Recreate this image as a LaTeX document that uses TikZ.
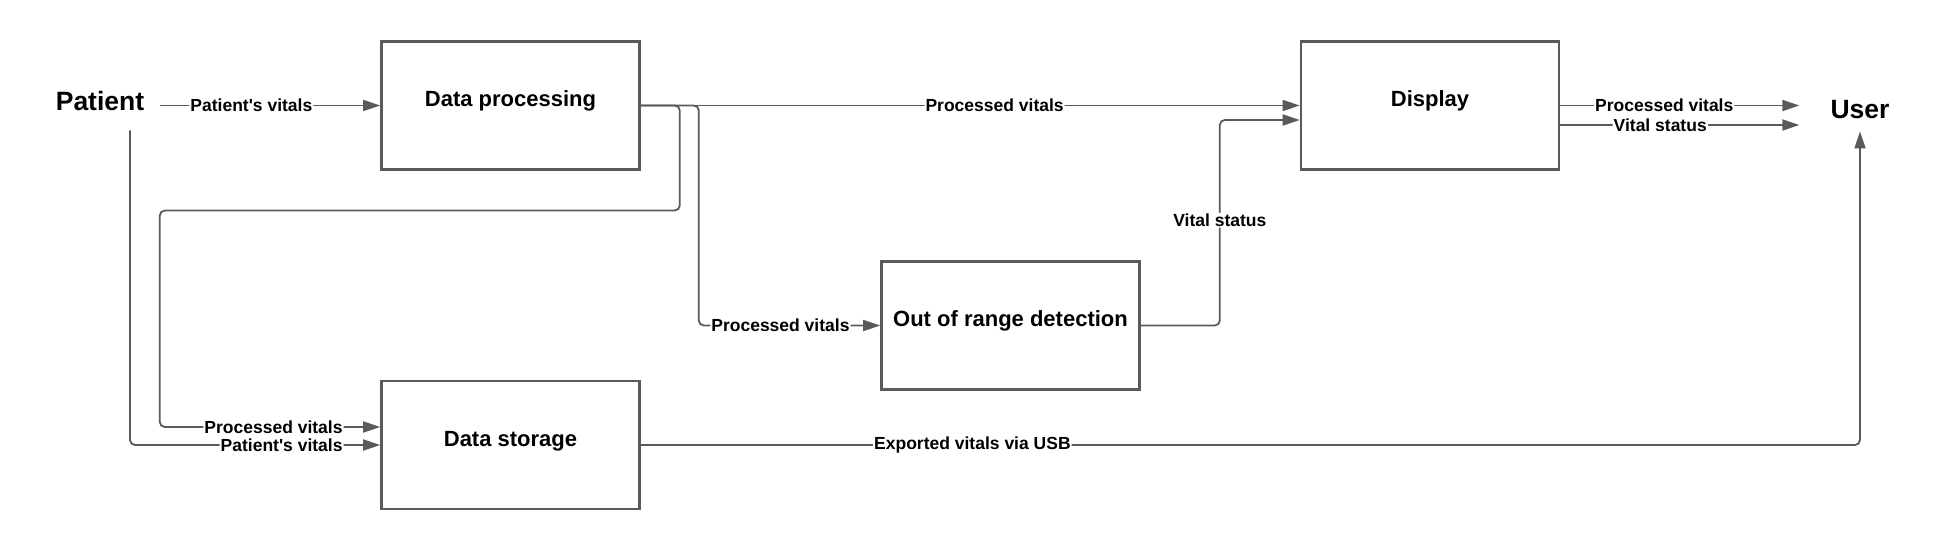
\documentclass[tikz,border=0pt]{standalone}
\usepackage{fontspec}
\setmainfont{Liberation Sans}
\usetikzlibrary{arrows.meta}
\definecolor{linegray}{HTML}{5A5A5A}
\begin{document}
\begin{tikzpicture}[x=1pt, y=-1pt, font=\bfseries,
    block/.style={draw=linegray, line width=2.6pt, minimum width=258pt, minimum height=128pt, text depth=13pt, font=\fontsize{22}{26}\selectfont\bfseries},
    ext/.style={font=\fontsize{26.5}{30}\selectfont\bfseries},
    lbl/.style={fill=white, inner sep=1pt, font=\fontsize{17.5}{20}\selectfont\bfseries},
    conn/.style={draw=linegray, line width=1.8pt, rounded corners=5pt, -{Triangle[length=17pt, width=11pt]}}]
    \useasboundingbox (0,0) rectangle (1960,550);
    % outside
    \node[ext, inner xsep=16pt, inner ysep=19.5pt] (patient) at (100, 101) {Patient};
    \node[ext, inner xsep=31pt, inner ysep=12pt] (user) at (1860, 110) {User};
    % blocks
    \node[block] (proc) at (510.5, 105.5) {Data processing};
    \node[block] (disp) at (1430, 105.5) {Display};
    \node[block] (oor) at (1010.5, 325.5) {Out of range detection};
    \node[block] (store) at (510.5, 445) {Data storage};
    \coordinate (vs) at ([yshift=-19.5pt]disp.east);
    % connectors
    \draw[conn] (patient.east |- proc.west) -- (proc.west) node[lbl, pos=0.414] {Patient\textquotesingle s vitals};
    \draw[conn] ([xshift=30pt]patient.south) |- (store.west) node[lbl, pos=0.803] {Patient\textquotesingle s vitals};
    \draw[conn] (proc.east) -- ++(39,0) -- ++(0,105) -- ++(-520,0) |- ([yshift=18pt]store.west) node[lbl, pos=0.758] {Processed vitals};
    \draw[conn] (proc.east) -- (disp.west) node[lbl, pos=0.537] {Processed vitals};
    \draw[conn] (proc.east) -- ++(58,0) |- (oor.west) node[lbl, pos=0.725] {Processed vitals};
    \draw[conn] (oor.east) -- ++(79,0) |- ([yshift=-14.5pt]disp.west) node[lbl, pos=0.256] {Vital status};
    \draw[conn] (disp.east) -- (disp.east -| user.west) node[lbl, pos=0.435] {Processed vitals};
    \draw[conn] (vs) -- (vs -| user.west) node[lbl, pos=0.418] {Vital status};
    \draw[conn] (store.east) -| (user.south) node[lbl, pos=0.136] {Exported vitals via USB};
\end{tikzpicture}
\end{document}
